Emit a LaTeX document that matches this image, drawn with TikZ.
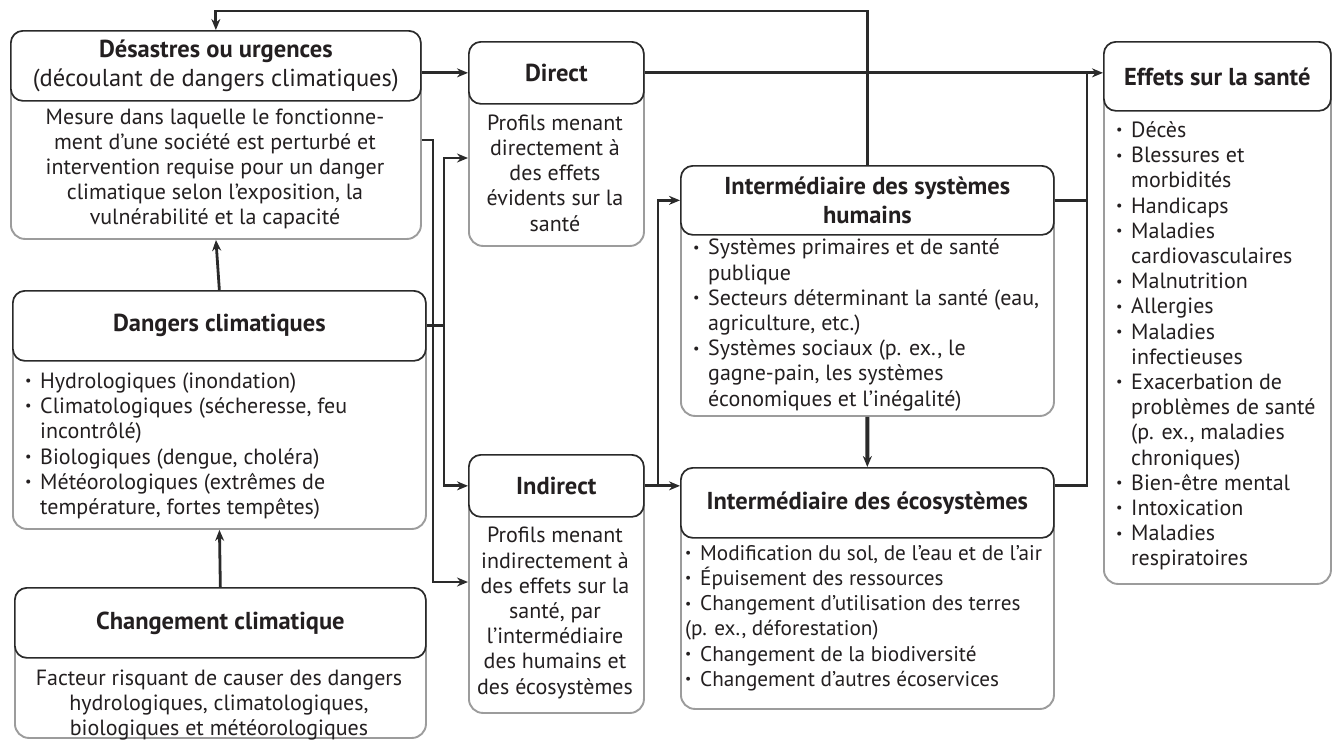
\documentclass[tikz,border=0pt]{standalone}
\usepackage{fontspec}
\setmainfont{PT Sans}
\usetikzlibrary{arrows.meta,positioning}
\definecolor{edgegray}{HTML}{2A2A2A}
\definecolor{framegray}{HTML}{9C9C9C}
\definecolor{inkgray}{HTML}{231F20}
\tikzset{%
   head/.style={draw=edgegray, line width=1.7pt, rounded corners=12pt, fill=white, anchor=north west,
      inner sep=2pt, align=center, text=inkgray, font=\fontsize{24.5}{29}\selectfont\bfseries},
   frame/.style={draw=framegray, line width=1.9pt, rounded corners=14pt, fill=white, anchor=north west, inner sep=0pt},
   body/.style={inner sep=0pt, align=center, text=inkgray, font=\fontsize{22}{25.2}\selectfont},
   list/.style={body, align=left, anchor=west},
   wire/.style={line width=2.8pt, draw=edgegray},
   link/.style={wire, -{Stealth[length=11pt,width=9pt]}},
}
\newcommand{\bul}{\makebox[15pt][l]{\raisebox{.12em}{\scalebox{.65}{•}}}}
\newcommand{\ind}{\hspace*{15pt}}

\begin{document}
\begin{tikzpicture}[x=1pt, y=-1pt]
   \useasboundingbox (0,0) rectangle (1334,740);
   % left column
   \node[frame, minimum width=410, minimum height=208] (disf) at (10,30) {};
   \node[head, minimum width=410, minimum height=70] (dis) at (10,30)
      {Désastres ou urgences\\{\mdseries (découlant de dangers climatiques)}};
   \node[body] (disb) at (215,169) {Mesure dans laquelle le fonctionne-\\ment d’une société est perturbé et\\
      intervention requise pour un danger\\climatique selon l’exposition, la\\vulnérabilité et la capacité};

   \node[frame, minimum width=413, minimum height=238] (danf) at (12,290) {};
   \node[head, minimum width=413, minimum height=70] (dan) at (12,290) {Dangers climatiques};
   \node[list] (danb) at (25,446) {\bul Hydrologiques (inondation)\\\bul Climatologiques (sécheresse, feu\\
      \ind incontrôlé)\\\bul Biologiques (dengue, choléra)\\\bul Météorologiques (extrêmes de\\
      \ind température, fortes tempêtes)};

   \node[frame, minimum width=411, minimum height=150] (chgf) at (14,587) {};
   \node[head, minimum width=411, minimum height=70] (chg) at (14,587) {Changement climatique};
   \node[body] (chgb) at (219,705) {Facteur risquant de causer des dangers\\hydrologiques, climatologiques,\\
      biologiques et météorologiques};

   % middle column
   \node[frame, minimum width=175, minimum height=204] (dirf) at (468,41) {};
   \node[head, minimum width=175, minimum height=62] (dir) at (468,41) {Direct};
   \node[body] (dirb) at (555,173) {Profils menant\\directement à\\des effets\\évidents sur la\\santé};

   \node[frame, minimum width=175, minimum height=258] (indf) at (468,454) {};
   \node[head, minimum width=175, minimum height=62] (ind) at (468,454) {Indirect};
   \node[body] (indb) at (555,613) {Profils menant\\indirectement à\\des effets sur la\\santé, par\\
      l’intermédiaire\\des humains et\\des écosystèmes};

   \node[frame, minimum width=373, minimum height=250] (humf) at (680,165) {};
   \node[head, minimum width=373, minimum height=69] (hum) at (680,165) {Intermédiaire des systèmes\\humains};
   \node[list] (humb) at (693,325) {\bul Systèmes primaires et de santé\\\ind publique\\
      \bul Secteurs déterminant la santé (eau,\\\ind agriculture, etc.)\\\bul Systèmes sociaux (p. ex., le\\
      \ind gagne-pain, les systèmes\\\ind économiques et l’inégalité)};

   \node[frame, minimum width=373, minimum height=241] (ecof) at (680,467) {};
   \node[head, minimum width=373, minimum height=70] (eco) at (680,467) {Intermédiaire des écosystèmes};
   \node[list, font=\fontsize{21.2}{25.2}\selectfont] (ecob) at (685,618) {\bul Modification du sol, de l’eau et de l’air\\
      \bul Épuisement des ressources\\\bul Changement d’utilisation des terres\\(p. ex., déforestation)\\
      \bul Changement de la biodiversité\\\bul Changement d’autres écoservices};

   % right column
   \node[frame, minimum width=227, minimum height=542] (efff) at (1103,41) {};
   \node[head, minimum width=227, minimum height=69] (eff) at (1103,41) {Effets sur la santé};
   \node[list] (effb) at (1116,346) {\bul Décès\\\bul Blessures et\\\ind morbidités\\\bul Handicaps\\
      \bul Maladies\\\ind cardiovasculaires\\\bul Malnutrition\\\bul Allergies\\\bul Maladies\\
      \ind infectieuses\\\bul Exacerbation de\\\ind problèmes de santé\\\ind (p. ex., maladies\\
      \ind chroniques)\\\bul Bien-être mental\\\bul Intoxication\\\bul Maladies\\\ind respiratoires};

   \coordinate (busm) at (433,0);
   \coordinate (busl) at (444,0);
   \coordinate (busi) at (658,0);
   \coordinate (busr) at (1087,0);

   % connectors
   \draw[link] (hum.north) -- (hum.north |- 0,11) -| (dis.north);
   \draw[link] (chg.north) -- (danf.south);
   \draw[link] (dan.north) -- (disf.south);
   \draw[link] (dis.east |- dir.west) -- (dir.west);
   \draw[link] (dir.east) -- (dir.east -| eff.west);
   \draw[wire] (dan.east) -- (dan.east -| busl);
   \draw[link] (busl |- dan.east) |- (dirf.west |- 0,158);
   \draw[link] (busl |- dan.east) |- (ind.west);
   \draw[link] (disf.east |- 0,140) -- (busm |- 0,140) |- (indf.west |- 0,582);
   \draw[link] (ind.east) -- (eco.west |- ind.east);
   \draw[link] (busi |- ind.east) |- (hum.west);
   \draw[link, line width=4pt] (humf.south) -- (eco.north);
   \draw[wire] (hum.east) -- (hum.east -| busr);
   \draw[wire] (eco.east |- ind.east) -- (busr |- ind.east) -- (busr |- dir.east);
\end{tikzpicture}
\end{document}
